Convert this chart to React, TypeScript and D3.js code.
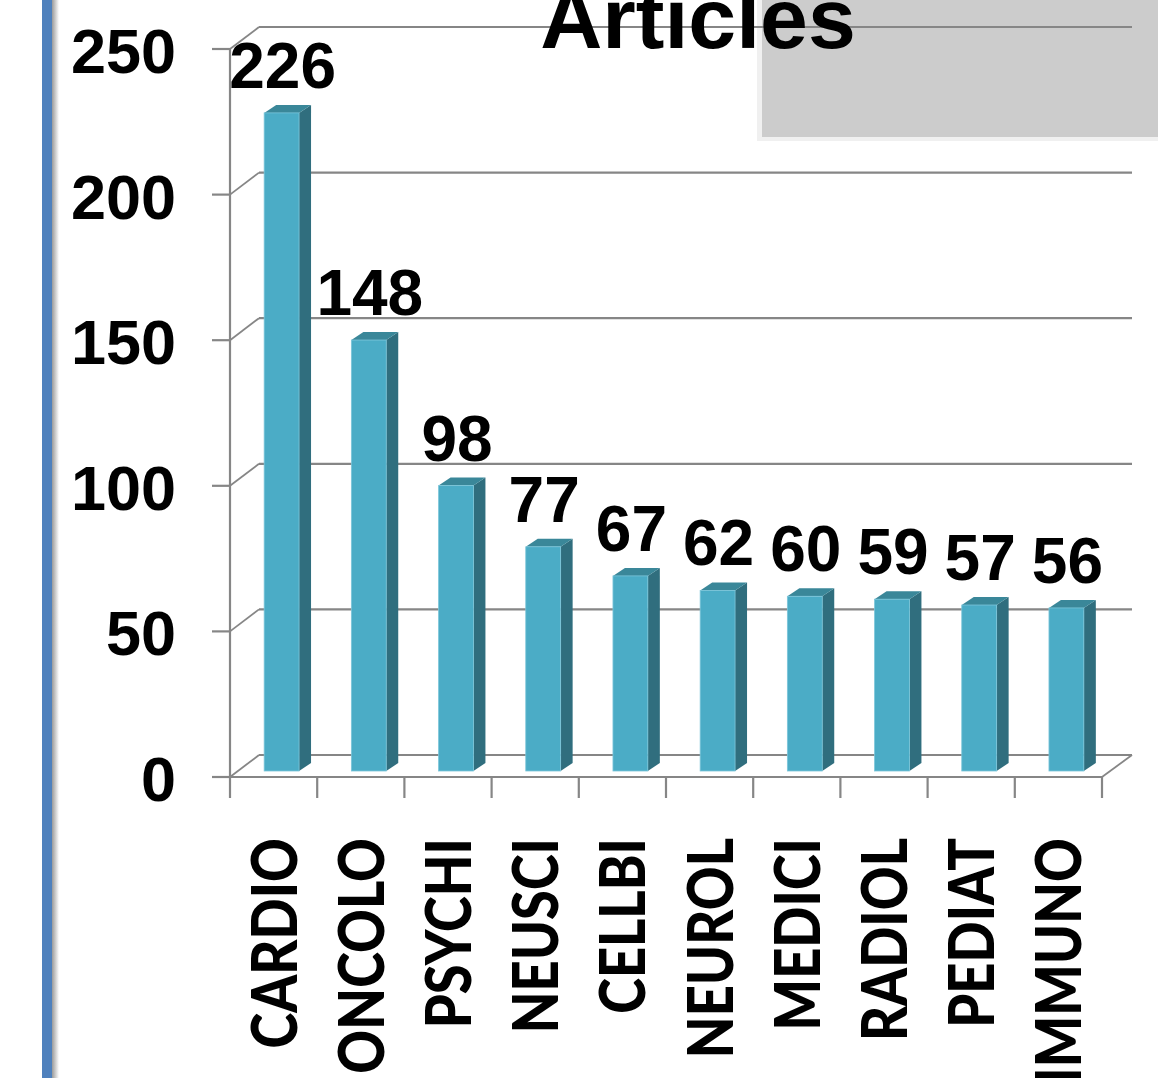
import React from "react";
import * as d3 from "d3";

const categories = ["CARDIO", "ONCOLO", "PSYCHI", "NEUSCI", "CELLBI", "NEUROL", "MEDICI", "RADIOL", "PEDIAT", "IMMUNO"];
const articleCounts = [226, 148, 98, 77, 67, 62, 60, 59, 57, 56];
const yTicks = [0, 50, 100, 150, 200, 250];
const chartTitle = "Articles";

const W = 1158;
const H = 1078;
const X0 = 230;
const X1 = 1102;
const Y0 = 777;
const Y1 = 49;
const DEPTH_X = 29;
const DEPTH_Y = -22;
const BAR_OFF_X = 8;
const BAR_OFF_Y = -6;
const BAR_DX = 12;
const BAR_DY = -8;

const NUM_FONT = "'Liberation Sans', Arial, sans-serif";
const CAT_FONT = "Lato, 'Open Sans', sans-serif";

export default function App() {
  const x = d3.scaleBand<string>().domain(categories).range([X0, X1]).paddingInner(0.6).paddingOuter(0.3);
  const slot = d3.scaleBand<string>().domain(categories).range([X0, X1]).padding(0);
  const y = d3.scaleLinear().domain([0, 250]).range([Y0, Y1]);
  const bw = x.bandwidth();
  const grid = "#868686";

  const tickBounds = d3.range(categories.length + 1).map((i) => X0 + i * slot.step());

  return (
    <svg width={W} height={H} style={{ position: "absolute", left: 0, top: 0, display: "block", background: "#fff" }}>
      <defs>
        <linearGradient id="shadow" x1="0" x2="1" y1="0" y2="0">
          <stop offset="0" stopColor="#9a9a9a" />
          <stop offset="1" stopColor="#ffffff" />
        </linearGradient>
      </defs>
      <rect x={42} y={0} width={10} height={H} fill="#4f81bd" />
      <rect x={52} y={0} width={7} height={H} fill="url(#shadow)" />

      <rect x={757} y={0} width={W - 757} height={141} fill="#f0f0f0" />
      <rect x={762} y={0} width={W - 762} height={137} fill="#cccccc" />

      {yTicks.map((t) => (
        <g key={"g" + t}>
          <line x1={X0 + DEPTH_X} x2={X1 + DEPTH_X + 1} y1={y(t) + DEPTH_Y} y2={y(t) + DEPTH_Y} stroke={grid} strokeWidth={2.2} />
          <line x1={X0} x2={X0 + DEPTH_X} y1={y(t)} y2={y(t) + DEPTH_Y} stroke={grid} strokeWidth={1.8} />
          <line x1={X0 - 18} x2={X0} y1={y(t)} y2={y(t)} stroke={grid} strokeWidth={2.2} />
        </g>
      ))}
      <line x1={X0} x2={X0} y1={y(250)} y2={y(0)} stroke={grid} strokeWidth={2.2} />
      <line x1={X0} x2={X1} y1={y(0)} y2={y(0)} stroke={grid} strokeWidth={2.2} />
      <line x1={X1} x2={X1 + DEPTH_X + 1} y1={y(0)} y2={y(0) + DEPTH_Y} stroke={grid} strokeWidth={1.8} />
      {tickBounds.map((tx, i) => (
        <line key={"xt" + i} x1={tx} x2={tx} y1={y(0)} y2={y(0) + 21} stroke={grid} strokeWidth={2.2} />
      ))}

      {categories.map((c, i) => {
        const v = articleCounts[i];
        const bx = (x(c) as number) + BAR_OFF_X;
        const top = y(v) + BAR_OFF_Y;
        const bot = y(0) + BAR_OFF_Y;
        const side = `${bx + bw},${top} ${bx + bw + BAR_DX},${top + BAR_DY} ${bx + bw + BAR_DX},${bot + BAR_DY} ${bx + bw},${bot}`;
        const topFace = `${bx},${top} ${bx + BAR_DX},${top + BAR_DY} ${bx + bw + BAR_DX},${top + BAR_DY} ${bx + bw},${top}`;
        return (
          <g key={c}>
            <polygon points={side} fill="#306e7e" />
            <polygon points={topFace} fill="#3a8799" />
            <rect x={bx} y={top} width={bw} height={bot - top} fill="#4bacc6" stroke="#7cc6da" strokeWidth={0.8} />
          </g>
        );
      })}

      {categories.map((c, i) => {
        const v = articleCounts[i];
        const cx = (x(c) as number) + BAR_OFF_X + bw / 2 + 1;
        return (
          <text key={"v" + c} x={cx} y={y(v) - 31} textAnchor="middle" fontFamily={NUM_FONT} fontWeight={700} fontSize={64} fill="#000">
            {v}
          </text>
        );
      })}

      {yTicks.map((t) => (
        <text key={"yl" + t} x={176} y={y(t) + 24} textAnchor="end" fontFamily={NUM_FONT} fontWeight={700} fontSize={63} fill="#000">
          {t}
        </text>
      ))}

      {categories.map((c) => {
        const cx = (slot(c) as number) + slot.bandwidth() / 2 + 23;
        return (
          <text
            key={"c" + c}
            transform={`translate(${cx},838) rotate(-90) scale(0.86,1)`}
            textAnchor="end"
            fontFamily={CAT_FONT}
            fontWeight={900}
            fontSize={63}
            fill="#000"
          >
            {c}
          </text>
        );
      })}

      <text x={698} y={48} textAnchor="middle" fontFamily={NUM_FONT} fontWeight={700} fontSize={86} fill="#000">
        {chartTitle}
      </text>
    </svg>
  );
}
